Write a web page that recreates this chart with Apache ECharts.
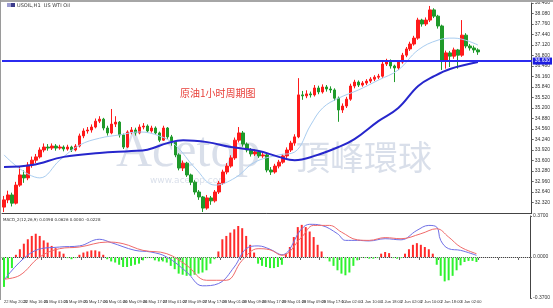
<!DOCTYPE html>
<html><head><meta charset="utf-8">
<script src="https://cdn.jsdelivr.net/npm/echarts@6/dist/echarts.min.js"></script>
<style>html,body{margin:0;padding:0;background:#fff}#c{width:553px;height:308px}</style>
</head><body><div id="c"></div>
<script>
const tickLabels = ["22 May 2020","22 May 16:00","25 May 01:00","25 May 09:00","25 May 17:00","26 May 01:00","26 May 09:00","26 May 17:00","27 May 01:00","27 May 09:00","27 May 17:00","28 May 01:00","28 May 09:00","28 May 17:00","29 May 01:00","29 May 09:00","29 May 17:00","1 Jun 02:00","1 Jun 10:00","1 Jun 18:00","2 Jun 02:00","2 Jun 10:00","2 Jun 18:00","3 Jun 02:00"];

const barOpen = [
32.18,32.40,32.55,32.30,32.85,33.16,33.07,33.46,33.61,33.71,
33.92,34.01,33.98,34.04,33.98,34.01,33.95,34.01,33.92,34.04,
34.35,34.50,34.53,34.62,34.80,34.86,34.59,34.44,34.71,34.77,
34.38,34.01,34.47,34.53,34.44,34.62,34.65,34.50,34.59,34.44,
34.22,34.59,34.32,34.16,33.77,33.37,33.52,33.16,32.94,32.64,
32.49,32.15,32.46,32.37,32.64,32.91,33.25,33.43,33.68,34.22,
34.44,34.10,33.92,33.80,33.86,33.74,33.77,33.31,33.25,33.43,
33.55,33.74,33.92,34.13,34.32,35.60,35.57,35.63,35.60,35.81,
35.69,35.84,35.78,35.75,35.50,35.14,35.26,35.47,35.87,35.99,
35.90,35.96,36.02,36.08,36.14,36.17,36.54,36.63,36.48,36.42,
36.60,36.81,37.00,37.15,37.33,37.88,37.76,37.88,38.19,38.00,
37.70,36.66,36.88,36.78,36.97,36.81,37.42,37.09,37.03,36.97];
const barClose = [
32.40,32.55,32.30,32.85,33.16,33.07,33.46,33.61,33.71,33.92,
34.01,33.98,34.04,33.98,34.01,33.95,34.01,33.92,34.04,34.35,
34.50,34.53,34.62,34.80,34.86,34.59,34.44,34.71,34.77,34.38,
34.01,34.47,34.53,34.44,34.62,34.65,34.50,34.59,34.44,34.22,
34.59,34.32,34.16,33.77,33.37,33.52,33.16,32.94,32.64,32.49,
32.15,32.46,32.37,32.64,32.91,33.25,33.43,33.68,34.22,34.44,
34.10,33.92,33.80,33.86,33.74,33.77,33.31,33.25,33.43,33.55,
33.74,33.92,34.13,34.32,35.60,35.57,35.63,35.60,35.81,35.69,
35.84,35.78,35.75,35.50,35.14,35.26,35.47,35.87,35.99,35.90,
35.96,36.02,36.08,36.14,36.17,36.54,36.63,36.48,36.42,36.60,
36.81,37.00,37.15,37.33,37.88,37.76,37.88,38.19,38.00,37.70,
36.66,36.88,36.78,36.97,36.81,37.42,37.09,37.03,36.97,36.91];
const barLow = [
32.03,32.30,32.20,32.26,32.80,32.92,33.00,33.38,33.52,33.66,
33.85,33.90,33.92,33.90,33.93,33.88,33.90,33.86,33.88,34.00,
34.28,34.42,34.45,34.58,34.74,34.52,34.36,34.40,34.62,34.30,
33.95,33.98,34.40,34.36,34.40,34.55,34.44,34.45,34.38,34.16,
34.20,34.26,34.05,33.70,33.30,33.28,33.10,32.85,32.56,32.40,
32.03,32.10,32.25,32.32,32.58,32.86,33.18,33.38,33.62,34.15,
34.02,33.85,33.72,33.74,33.68,33.68,33.24,33.16,33.20,33.36,
33.50,33.68,33.86,34.05,34.28,35.45,35.50,35.52,35.55,35.62,
35.64,35.70,35.66,35.42,34.78,35.05,35.20,35.42,35.80,35.84,
35.85,35.90,35.96,36.02,36.08,36.12,36.48,36.40,35.99,36.36,
36.55,36.75,36.94,37.10,37.28,37.68,37.70,37.82,37.94,37.62,
36.36,36.40,36.45,36.70,36.40,36.76,37.02,36.95,36.88,36.82];
const barHigh = [
32.52,32.68,32.62,32.95,33.40,33.30,33.55,33.72,33.80,34.00,
34.12,34.10,34.12,34.10,34.08,34.06,34.08,34.05,34.10,34.42,
34.58,34.62,34.70,34.88,34.95,34.90,34.66,35.17,34.95,34.80,
34.42,34.52,34.62,34.60,34.70,34.74,34.70,34.66,34.64,34.48,
34.66,34.62,34.38,34.20,33.82,33.60,33.56,33.20,33.00,32.70,
32.52,32.55,32.52,32.70,32.98,33.32,33.52,33.76,34.30,34.62,
34.50,34.15,33.98,33.94,33.92,33.84,33.80,33.40,33.50,33.62,
33.80,34.00,34.20,34.40,36.11,35.72,35.74,35.70,35.90,35.88,
35.92,35.90,35.86,35.80,35.55,35.34,35.54,35.94,36.06,36.04,
36.02,36.08,36.14,36.20,36.24,36.62,36.70,36.68,36.52,36.66,
36.88,37.06,37.22,37.40,37.95,37.92,37.96,38.31,38.24,38.04,
37.74,36.95,36.94,37.04,37.00,37.88,37.48,37.15,37.10,37.02];

// moving averages: [bar index, value]
const maSlow = [[0,33.40],[7,33.46],[15,33.71],[24,33.83],[32,33.89],[36,33.93],[41,34.13],[45,34.22],[51,34.16],[57,34.01],[64,33.89],[69,33.71],[73,33.61],[78,33.74],[84,34.01],[88,34.25],[94,34.80],[99,35.20],[104,35.87],[108,36.17],[112,36.39],[119,36.60]];
const maFast = [[0,33.77],[9,33.07],[14,33.61],[19,34.07],[24,34.28],[29,34.38],[34,34.47],[39,34.35],[43,34.07],[48,33.37],[53,32.85],[58,33.07],[63,33.55],[69,33.77],[73,33.86],[77,34.68],[80,35.20],[84,35.50],[89,35.75],[94,36.05],[99,36.36],[104,36.97],[109,37.27],[113,37.33],[119,37.12]];

const macdHist = [
-0.27,-0.19,-0.10,0.02,0.07,0.12,0.16,0.19,0.21,0.19,
0.15,0.13,0.10,0.08,0.05,0.03,-0.01,-0.02,-0.01,0.02,
0.04,0.05,0.06,0.06,0.05,0.02,-0.02,-0.04,-0.05,-0.07,
-0.09,-0.09,-0.08,-0.07,-0.06,-0.03,-0.01,-0.01,-0.03,-0.04,
-0.04,-0.05,-0.08,-0.11,-0.15,-0.16,-0.17,-0.17,-0.16,-0.15,
-0.14,-0.12,-0.06,-0.02,0.05,0.16,0.19,0.22,0.25,0.28,
0.26,0.19,0.11,0.04,-0.06,-0.08,-0.09,-0.10,-0.10,-0.09,
-0.07,0.03,0.09,0.18,0.27,0.29,0.27,0.23,0.18,0.11,
0.05,-0.01,-0.04,-0.08,-0.12,-0.15,-0.165,-0.14,-0.08,-0.03,
-0.005,-0.01,-0.015,-0.015,-0.01,0.03,0.045,0.035,-0.01,-0.015,
-0.01,0.03,0.07,0.11,0.125,0.11,0.09,0.07,0.03,-0.07,
-0.17,-0.22,-0.21,-0.17,-0.12,-0.075,-0.045,-0.035,-0.035,-0.045];
const macdMain = [[0,-0.21],[8,0.06],[14,0.09],[19,0.10],[24,0.16],[27,0.13],[33,0.06],[37,0.045],[41,0.0],[46,-0.135],[50,-0.26],[54,-0.24],[58,-0.09],[61,0.075],[64,0.10],[67,0.07],[70,0.02],[75,0.255],[77,0.295],[80,0.285],[84,0.21],[86,0.15],[89,0.15],[92,0.145],[96,0.165],[100,0.155],[104,0.24],[107,0.285],[109,0.27],[110,0.15],[112,0.075],[115,0.06],[119,0.015]];
const macdSignal = [[0,-0.20],[4,-0.165],[9,0.0],[14,0.075],[19,0.09],[26,0.135],[30,0.12],[35,0.06],[41,0.03],[46,-0.075],[51,-0.21],[56,-0.21],[60,-0.03],[64,0.075],[67,0.065],[70,0.015],[75,0.18],[78,0.285],[82,0.285],[85,0.225],[89,0.155],[92,0.15],[96,0.175],[100,0.165],[105,0.21],[109,0.255],[112,0.18],[115,0.09],[119,0.03]];

const levelPrice = 36.63;
const SLOTS = 133;

const cats = [];
for (let i = 0; i < SLOTS; i++) cats.push(String(i));
const candles = barOpen.map((o, i) => [o, barClose[i], barLow[i], barHigh[i]]);

const chart = echarts.init(document.getElementById('c'), null, {renderer: 'canvas'});
const axisColor = '#444';
const wm = 'rgba(120,140,180,0.28)';
chart.setOption({
  animation: false,
  backgroundColor: '#fff',
  grid: [
    {left: 2, right: 16, top: 3, height: 210},
    {left: 2, right: 16, top: 216, height: 82}
  ],
  xAxis: [
    {type: 'category', gridIndex: 0, data: cats, boundaryGap: true,
     axisLine: {show: true, lineStyle: {color: axisColor, width: 1}},
     axisTick: {show: false}, axisLabel: {show: false}, splitLine: {show: false}},
    {type: 'category', gridIndex: 1, data: cats, boundaryGap: true,
     axisLine: {show: true, lineStyle: {color: axisColor, width: 1}},
     axisTick: {show: true, length: 3, interval: (i) => i % 5 === 0, lineStyle: {color: '#666'}},
     axisLabel: {show: true, interval: 0, fontSize: 4, color: '#333', margin: 2, align: 'left',
       formatter: (v, i) => (i % 5 === 0 && tickLabels[i / 5]) ? tickLabels[i / 5] : ''},
     splitLine: {show: false}}
  ],
  yAxis: [
    {type: 'value', gridIndex: 0, position: 'right', min: 32.00, max: 38.40, interval: 0.32,
     axisLine: {show: true, lineStyle: {color: axisColor}},
     axisTick: {show: true, length: 2, lineStyle: {color: '#666'}},
     axisLabel: {fontSize: 5, color: '#333', margin: 3, showMinLabel: false, formatter: v => v.toFixed(3)},
     splitLine: {show: false}},
    {type: 'value', gridIndex: 1, position: 'right', min: -0.37, max: 0.37, interval: 0.37,
     axisLine: {show: true, lineStyle: {color: axisColor}},
     axisTick: {show: true, length: 2, lineStyle: {color: '#666'}},
     axisLabel: {fontSize: 5, color: '#333', margin: 3, formatter: v => v.toFixed(4)},
     splitLine: {show: false}}
  ],
  series: [
    {type: 'candlestick', xAxisIndex: 0, yAxisIndex: 0, data: candles, barWidth: 3,
     itemStyle: {color: '#ff1a1a', color0: '#1f9a2a', borderColor: '#ff1a1a', borderColor0: '#1f9a2a', borderWidth: 1},
     markLine: {silent: true, symbol: ['none', 'none'], animation: false,
       lineStyle: {color: '#2b2bf0', width: 2, type: 'solid'},
       label: {show: true, position: 'end', distance: 1, formatter: levelPrice.toFixed(3),
         fontSize: 5, color: '#fff', backgroundColor: '#1c1ce0', padding: [1, 2]},
       data: [{yAxis: levelPrice}]}},
    {type: 'line', xAxisIndex: 0, yAxisIndex: 0, data: maFast, smooth: 0.4, showSymbol: false,
     lineStyle: {color: '#a9cdf0', width: 1}},
    {type: 'line', xAxisIndex: 0, yAxisIndex: 0, data: maSlow, smooth: 0.4, showSymbol: false,
     lineStyle: {color: '#2626cc', width: 2}},
    {type: 'bar', xAxisIndex: 1, yAxisIndex: 1, data: macdHist, barWidth: 2,
     itemStyle: {color: p => p.value >= 0 ? '#ff2a2a' : '#2ef22e'},
     markLine: {silent: true, symbol: ['none', 'none'], animation: false, label: {show: false},
       lineStyle: {color: '#cfcfcf', width: 1, type: 'dotted'}, data: [{yAxis: 0}]}},
    {type: 'line', xAxisIndex: 1, yAxisIndex: 1, data: macdMain, smooth: 0.4, showSymbol: false,
     lineStyle: {color: '#6f6fe6', width: 1}},
    {type: 'line', xAxisIndex: 1, yAxisIndex: 1, data: macdSignal, smooth: 0.4, showSymbol: false,
     lineStyle: {color: '#f06a6a', width: 1}}
  ],
  graphic: [
    {type: 'rect', left: 0, top: 0, shape: {width: 553, height: 2}, style: {fill: '#a6a6a6'}, z: 10},
    {type: 'rect', left: 0, top: 0, shape: {width: 1, height: 300}, style: {fill: '#9a9a9a'}, z: 10},
    {type: 'rect', left: 7, top: 3, shape: {width: 4, height: 4}, style: {fill: '#9c9cd0'}, z: 10},
    {type: 'rect', left: 11, top: 3, shape: {width: 4, height: 4}, style: {fill: '#3a3a8a'}, z: 10},
    {type: 'text', left: 17, top: 3, z: 10, style: {text: 'USOIL,H1  US WTI Oil', font: '5px "DejaVu Sans"', fill: '#333'}},
    {type: 'text', left: 3, top: 218, z: 10, style: {text: 'MACD_2(12,26,9) 0.0398 0.0626 0.0000 -0.0228', font: '4px "DejaVu Sans"', fill: '#333'}},
    {type: 'text', left: 180, top: 88, z: 10, style: {text: '原油1小时周期图', font: '10px "Noto Sans CJK SC"', fill: '#e8403a'}},
    {type: 'text', left: 116, top: 128, z: 1, style: {text: 'Acetop', font: '50px "Liberation Serif"', fill: wm}},
    {type: 'text', left: 296, top: 140, z: 1, style: {text: '頂峰環球', font: '34px "Noto Sans CJK TC"', fill: wm}},
    {type: 'text', left: 150, top: 176, z: 1, style: {text: 'www.acetop.com', font: '9px "DejaVu Sans"', fill: wm}}
  ]
});
</script></body></html>
